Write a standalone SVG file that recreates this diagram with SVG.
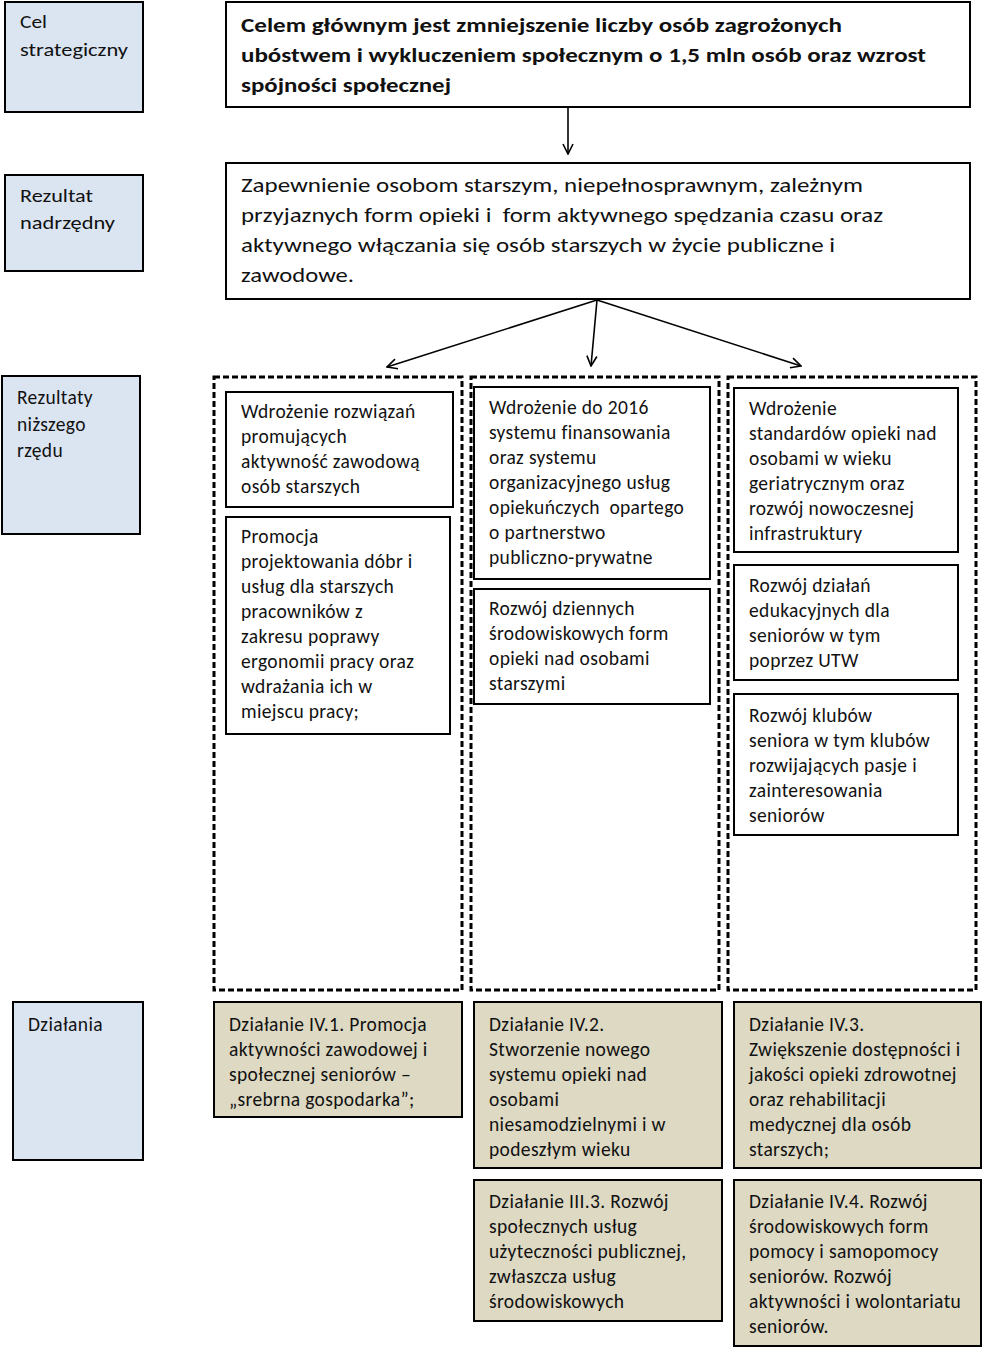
<svg xmlns="http://www.w3.org/2000/svg" width="984" height="1348" viewBox="0 0 984 1348">
<style>
.lbl{fill:#DBE5F1;stroke:#000;stroke-width:2}
.box{fill:#fff;stroke:#000;stroke-width:2}
.act{fill:#DDD9C3;stroke:#000;stroke-width:2}
.dash{fill:none;stroke:#000;stroke-width:3;stroke-dasharray:6 3}
text{font-family:Carlito,Lato,"Liberation Sans",sans-serif;font-size:19.5px;letter-spacing:0.35px;fill:#111;white-space:pre}
.big{font-size:21px;letter-spacing:0}
.bold{font-size:20px;font-weight:bold;letter-spacing:0}
.nar{font-size:19px;letter-spacing:0}
.con{stroke:#000;stroke-width:1.6;fill:none}
</style>
<defs>
<marker id="arr" viewBox="0 0 12 12" refX="11" refY="6" markerWidth="12" markerHeight="12" markerUnits="userSpaceOnUse" orient="auto">
<path d="M1,1 L11,6 L1,11" fill="none" stroke="#000" stroke-width="1.6"/>
</marker>
</defs>

<g id="lbl-cel"><rect class="lbl" x="5" y="2" width="138" height="110"/>
<text class="nar" x="20" y="28" textLength="27" lengthAdjust="spacingAndGlyphs">Cel</text>
<text class="nar" x="20" y="56" textLength="108" lengthAdjust="spacingAndGlyphs">strategiczny</text></g>

<g id="lbl-rez"><rect class="lbl" x="5" y="175" width="138" height="96"/>
<text class="nar" x="20" y="202" textLength="73" lengthAdjust="spacingAndGlyphs">Rezultat</text>
<text class="nar" x="20" y="229" textLength="95" lengthAdjust="spacingAndGlyphs">nadrzędny</text></g>

<g id="lbl-niz"><rect class="lbl" x="2" y="376" width="138" height="158"/>
<text x="17" y="404">Rezultaty</text>
<text x="17" y="431">niższego</text>
<text x="17" y="457">rzędu</text></g>

<g id="lbl-dz"><rect class="lbl" x="13" y="1002" width="130" height="158"/>
<text x="28" y="1031">Działania</text></g>

<g id="cel"><rect class="box" x="226" y="2" width="744" height="105"/>
<text class="bold" x="241" y="32" textLength="601" lengthAdjust="spacingAndGlyphs">Celem głównym jest zmniejszenie liczby osób zagrożonych</text>
<text class="bold" x="241" y="62" textLength="685" lengthAdjust="spacingAndGlyphs">ubóstwem i wykluczeniem społecznym o 1,5 mln osób oraz wzrost</text>
<text class="bold" x="241" y="92" textLength="210" lengthAdjust="spacingAndGlyphs">spójności społecznej</text></g>

<g id="nadrz"><rect class="box" x="226" y="163" width="744" height="136"/>
<text class="big" x="241" y="192" textLength="622" lengthAdjust="spacingAndGlyphs">Zapewnienie osobom starszym, niepełnosprawnym, zależnym</text>
<text class="big" x="241" y="222" textLength="642" lengthAdjust="spacingAndGlyphs">przyjaznych form opieki i  form aktywnego spędzania czasu oraz</text>
<text class="big" x="241" y="252" textLength="594" lengthAdjust="spacingAndGlyphs">aktywnego włączania się osób starszych w życie publiczne i</text>
<text class="big" x="241" y="282" textLength="113" lengthAdjust="spacingAndGlyphs">zawodowe.</text></g>

<g id="connectors">
<line class="con" x1="568" y1="107" x2="568" y2="154" marker-end="url(#arr)"/>
<line class="con" x1="597" y1="300" x2="387" y2="367" marker-end="url(#arr)"/>
<line class="con" x1="597" y1="300" x2="591" y2="366" marker-end="url(#arr)"/>
<line class="con" x1="597" y1="300" x2="801" y2="366" marker-end="url(#arr)"/>
</g>

<g id="col1"><rect class="dash" x="214" y="377" width="248" height="613"/></g>
<g id="col2"><rect class="dash" x="471" y="377" width="248" height="613"/></g>
<g id="col3"><rect class="dash" x="728" y="377" width="248" height="613"/></g>

<g id="r1a"><rect class="box" x="226" y="392" width="227" height="115"/>
<text x="241" y="418">Wdrożenie rozwiązań</text>
<text x="241" y="443">promujących</text>
<text x="241" y="468">aktywność zawodową</text>
<text x="241" y="493">osób starszych</text></g>

<g id="r1b"><rect class="box" x="226" y="517" width="224" height="217"/>
<text x="241" y="543">Promocja</text>
<text x="241" y="568">projektowania dóbr i</text>
<text x="241" y="593">usług dla starszych</text>
<text x="241" y="618">pracowników z</text>
<text x="241" y="643">zakresu poprawy</text>
<text x="241" y="668">ergonomii pracy oraz</text>
<text x="241" y="693">wdrażania ich w</text>
<text x="241" y="718">miejscu pracy;</text></g>

<g id="r2a"><rect class="box" x="474" y="387" width="236" height="192"/>
<text x="489" y="414">Wdrożenie do 2016</text>
<text x="489" y="439">systemu finansowania</text>
<text x="489" y="464">oraz systemu</text>
<text x="489" y="489">organizacyjnego usług</text>
<text x="489" y="514">opiekuńczych  opartego</text>
<text x="489" y="539">o partnerstwo</text>
<text x="489" y="564">publiczno-prywatne</text></g>

<g id="r2b"><rect class="box" x="474" y="589" width="236" height="115"/>
<text x="489" y="615">Rozwój dziennych</text>
<text x="489" y="640">środowiskowych form</text>
<text x="489" y="665">opieki nad osobami</text>
<text x="489" y="690">starszymi</text></g>

<g id="r3a"><rect class="box" x="734" y="388" width="224" height="164"/>
<text x="749" y="415">Wdrożenie</text>
<text x="749" y="440">standardów opieki nad</text>
<text x="749" y="465">osobami w wieku</text>
<text x="749" y="490">geriatrycznym oraz</text>
<text x="749" y="515">rozwój nowoczesnej</text>
<text x="749" y="540">infrastruktury</text></g>

<g id="r3b"><rect class="box" x="734" y="565" width="224" height="115"/>
<text x="749" y="592">Rozwój działań</text>
<text x="749" y="617">edukacyjnych dla</text>
<text x="749" y="642">seniorów w tym</text>
<text x="749" y="667">poprzez UTW</text></g>

<g id="r3c"><rect class="box" x="734" y="694" width="224" height="141"/>
<text x="749" y="722">Rozwój klubów</text>
<text x="749" y="747">seniora w tym klubów</text>
<text x="749" y="772">rozwijających pasje i</text>
<text x="749" y="797">zainteresowania</text>
<text x="749" y="822">seniorów</text></g>

<g id="d1"><rect class="act" x="214" y="1002" width="248" height="115"/>
<text x="229" y="1031">Działanie IV.1. Promocja</text>
<text x="229" y="1056">aktywności zawodowej i</text>
<text x="229" y="1081">społecznej seniorów –</text>
<text x="229" y="1106">„srebrna gospodarka”;</text></g>

<g id="d2"><rect class="act" x="474" y="1002" width="248" height="166"/>
<text x="489" y="1031">Działanie IV.2.</text>
<text x="489" y="1056">Stworzenie nowego</text>
<text x="489" y="1081">systemu opieki nad</text>
<text x="489" y="1106">osobami</text>
<text x="489" y="1131">niesamodzielnymi i w</text>
<text x="489" y="1156">podeszłym wieku</text></g>

<g id="d3"><rect class="act" x="734" y="1002" width="247" height="166"/>
<text x="749" y="1031">Działanie IV.3.</text>
<text x="749" y="1056">Zwiększenie dostępności i</text>
<text x="749" y="1081">jakości opieki zdrowotnej</text>
<text x="749" y="1106">oraz rehabilitacji</text>
<text x="749" y="1131">medycznej dla osób</text>
<text x="749" y="1156">starszych;</text></g>

<g id="d4"><rect class="act" x="474" y="1180" width="248" height="141"/>
<text x="489" y="1208">Działanie III.3. Rozwój</text>
<text x="489" y="1233">społecznych usług</text>
<text x="489" y="1258">użyteczności publicznej,</text>
<text x="489" y="1283">zwłaszcza usług</text>
<text x="489" y="1308">środowiskowych</text></g>

<g id="d5"><rect class="act" x="734" y="1180" width="247" height="166"/>
<text x="749" y="1208">Działanie IV.4. Rozwój</text>
<text x="749" y="1233">środowiskowych form</text>
<text x="749" y="1258">pomocy i samopomocy</text>
<text x="749" y="1283">seniorów. Rozwój</text>
<text x="749" y="1308">aktywności i wolontariatu</text>
<text x="749" y="1333">seniorów.</text></g>
</svg>
